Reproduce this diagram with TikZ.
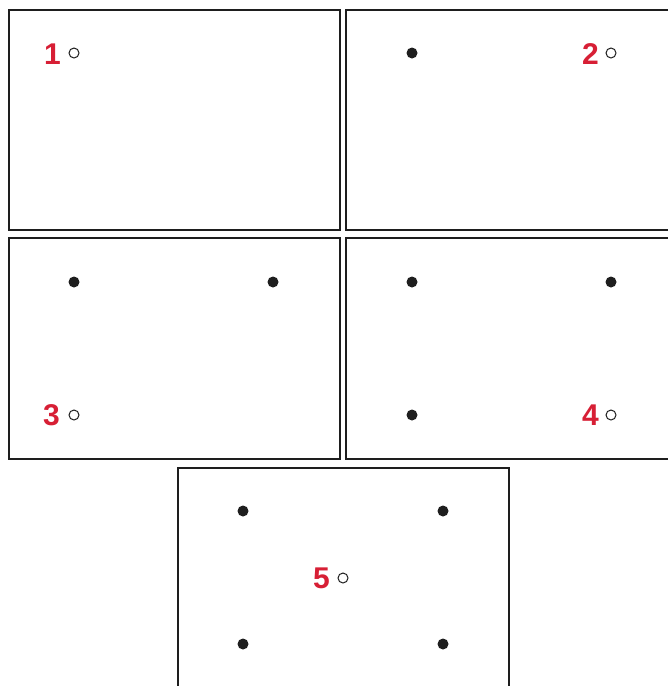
\documentclass[tikz,border=0pt]{standalone}
\usepackage{fontspec}
\newfontfamily\labfont{Liberation Sans}
\definecolor{labred}{HTML}{D71F35}
\definecolor{framec}{HTML}{1E1E1E}
\begin{document}
\begin{tikzpicture}[x=1pt,y=-1pt,
  frame/.style={draw=framec,line width=2pt},
  solid dot/.style={circle,fill=framec,inner sep=0pt,minimum size=11pt},
  open dot/.style={circle,draw=framec,line width=1pt,fill=white,inner sep=0pt,minimum size=10pt},
  numlab/.style={text=labred,font=\labfont\bfseries\fontsize{30}{30}\selectfont,inner sep=0pt,anchor=east}]
\useasboundingbox (0,0) rectangle (668,686);
\clip (0,0) rectangle (668,686);
% frames
\draw[frame] (9,10) rectangle (340,230);
\draw[frame] (346,10) rectangle (677,230);
\draw[frame] (9,238) rectangle (340,459);
\draw[frame] (346,238) rectangle (677,459);
\draw[frame] (178,468) rectangle (509,690);
% panel 1
\node[open dot] (o1) at (74,53) {};
\node[numlab] (l1) at (61,54) {1};
% panel 2
\node[solid dot] (a2) at (412,53) {};
\node[open dot] (o2) at (611,53) {};
\node[numlab] (l2) at (599,54) {2};
% panel 3
\node[solid dot] (a3) at (74,282) {};
\node[solid dot] (b3) at (273,282) {};
\node[open dot] (o3) at (74,415) {};
\node[numlab] (l3) at (60,415) {3};
% panel 4
\node[solid dot] (a4) at (412,282) {};
\node[solid dot] (b4) at (611,282) {};
\node[solid dot] (c4) at (412,415) {};
\node[open dot] (o4) at (611,415) {};
\node[numlab] (l4) at (599,415) {4};
% panel 5
\node[solid dot] (a5) at (243,511) {};
\node[solid dot] (b5) at (443,511) {};
\node[solid dot] (c5) at (243,644) {};
\node[solid dot] (d5) at (443,644) {};
\node[open dot] (o5) at (343,578) {};
\node[numlab] (l5) at (330,578) {5};
\end{tikzpicture}
\end{document}
